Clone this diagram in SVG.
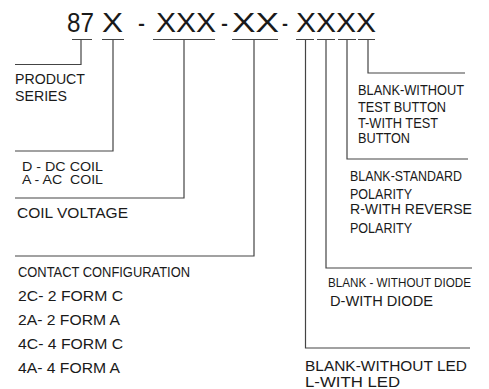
<svg xmlns="http://www.w3.org/2000/svg" width="489" height="389" viewBox="0 0 489 389">
<style>
text{font-family:"Liberation Sans",Arial,sans-serif;fill:#1a1a1a;white-space:pre}
.t{font-size:28px}
.l{font-size:14.5px}
.s{font-size:13.5px}
.d{font-size:12.5px}
.c{fill:none;stroke:#444;stroke-width:1.2}
</style>
<rect width="489" height="389" fill="#fff"/>
<g id="title">
<text class="t" x="67" y="32" textLength="27" lengthAdjust="spacingAndGlyphs">87</text>
<text class="t" x="102" y="32" textLength="21" lengthAdjust="spacingAndGlyphs">X</text>
<text class="t" x="138" y="32" textLength="7" lengthAdjust="spacingAndGlyphs">-</text>
<text class="t" x="156" y="32" textLength="60" lengthAdjust="spacingAndGlyphs">XXX</text>
<text class="t" x="221" y="32" textLength="7" lengthAdjust="spacingAndGlyphs">-</text>
<text class="t" x="232" y="32" textLength="47" lengthAdjust="spacingAndGlyphs">XX</text>
<text class="t" x="282" y="32" textLength="6" lengthAdjust="spacingAndGlyphs">-</text>
<text class="t" x="296" y="32" textLength="80" lengthAdjust="spacingAndGlyphs">XXXX</text>
</g>
<g id="connectors">
<path class="c" d="M72 39.5H92M102 39.5H124M153 39.5H215M232 39.5H278M296 39.5H314M317 39.5H335M338 39.5H356M358 39.5H375"/>
<path class="c" d="M81 39.5V64.5H15"/>
<path class="c" d="M113 39.5V151H15"/>
<path class="c" d="M184 39.5V198H15"/>
<path class="c" d="M254 39.5V256H15"/>
<path class="c" d="M305.5 39.5V348H470"/>
<path class="c" d="M326 39.5V268H472"/>
<path class="c" d="M347 39.5V159H468"/>
<path class="c" d="M368 39.5V73H465"/>
</g>
<g id="product-series">
<text class="l" x="15" y="84" textLength="70" lengthAdjust="spacingAndGlyphs">PRODUCT</text>
<text class="l" x="15" y="100.5" textLength="52" lengthAdjust="spacingAndGlyphs">SERIES</text>
</g>
<g id="coil-type">
<text class="s" x="22" y="170.5" textLength="81" lengthAdjust="spacingAndGlyphs">D - DC COIL</text>
<text class="s" x="22" y="184" textLength="81" lengthAdjust="spacingAndGlyphs">A - AC  COIL</text>
</g>
<g id="coil-voltage">
<text class="l" x="17" y="218" textLength="111" lengthAdjust="spacingAndGlyphs">COIL VOLTAGE</text>
</g>
<g id="contact-configuration">
<text class="l" x="18" y="277" textLength="172" lengthAdjust="spacingAndGlyphs">CONTACT CONFIGURATION</text>
<text class="l" x="18" y="301" textLength="105" lengthAdjust="spacingAndGlyphs">2C- 2 FORM C</text>
<text class="l" x="18" y="325" textLength="102" lengthAdjust="spacingAndGlyphs">2A- 2 FORM A</text>
<text class="l" x="18" y="349" textLength="105" lengthAdjust="spacingAndGlyphs">4C- 4 FORM C</text>
<text class="l" x="18" y="373" textLength="102" lengthAdjust="spacingAndGlyphs">4A- 4 FORM A</text>
</g>
<g id="test-button">
<text class="l" x="358" y="95" textLength="106" lengthAdjust="spacingAndGlyphs">BLANK-WITHOUT</text>
<text class="l" x="358" y="111.5" textLength="88" lengthAdjust="spacingAndGlyphs">TEST BUTTON</text>
<text class="l" x="358" y="128" textLength="80" lengthAdjust="spacingAndGlyphs">T-WITH TEST</text>
<text class="l" x="358" y="143" textLength="52" lengthAdjust="spacingAndGlyphs">BUTTON</text>
</g>
<g id="polarity">
<text class="l" x="350" y="181" textLength="112" lengthAdjust="spacingAndGlyphs">BLANK-STANDARD</text>
<text class="l" x="350" y="199" textLength="62" lengthAdjust="spacingAndGlyphs">POLARITY</text>
<text class="l" x="350" y="214" textLength="122" lengthAdjust="spacingAndGlyphs">R-WITH REVERSE</text>
<text class="l" x="350" y="233" textLength="62" lengthAdjust="spacingAndGlyphs">POLARITY</text>
</g>
<g id="diode">
<text class="d" x="328" y="287" textLength="143" lengthAdjust="spacingAndGlyphs">BLANK - WITHOUT DIODE</text>
<text class="l" x="330" y="306" textLength="103" lengthAdjust="spacingAndGlyphs">D-WITH DIODE</text>
</g>
<g id="led">
<text class="l" x="305" y="371" textLength="162" lengthAdjust="spacingAndGlyphs">BLANK-WITHOUT LED</text>
<text class="l" x="305" y="386.5" textLength="95" lengthAdjust="spacingAndGlyphs">L-WITH LED</text>
</g>
</svg>
